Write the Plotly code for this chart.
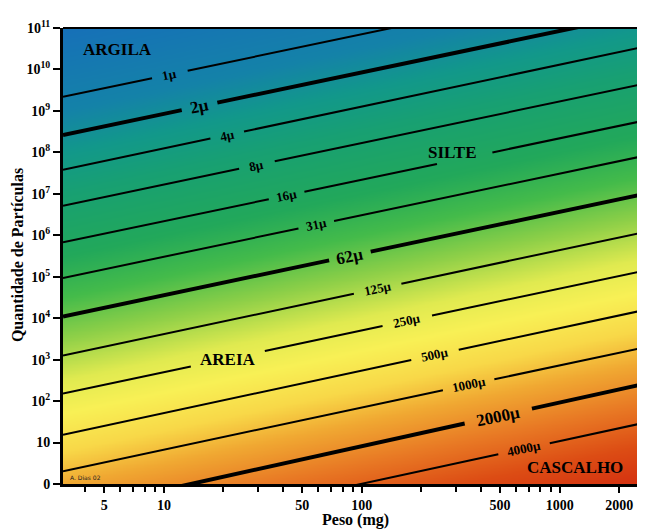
import numpy as np
import plotly.graph_objects as go

# ---------------- data ----------------
size_labels = ["1μ", "2μ", "4μ", "8μ", "16μ", "31μ", "62μ", "125μ", "250μ", "500μ", "1000μ", "2000μ", "4000μ"]
# log10(number of particles) at the left edge (3.09 mg) and right edge (2700 mg)
logN_left = [9.34, 8.42, 7.58, 6.71, 5.83, 4.97, 4.04, 3.10, 2.18, 1.19, 0.31, -0.68, -1.55]
logN_right = [12.28, 11.36, 10.55, 9.66, 8.77, 7.92, 7.00, 6.08, 5.15, 4.20, 3.30, 2.42, 1.48]
weight_left = 3.09
weight_right = 2700
thick_lines = ["2μ", "62μ", "2000μ"]
# label position along each line (log10 weight) and half-width of the gap
label_logx = [1.03, 1.18, 1.32, 1.47, 1.62, 1.77, 1.94, 2.08, 2.23, 2.37, 2.54, 2.69, 2.82]
label_half_gap = [0.09, 0.09, 0.085, 0.09, 0.09, 0.09, 0.105, 0.12, 0.125, 0.12, 0.13, 0.17, 0.13]

region_names = ["ARGILA", "SILTE", "AREIA", "CASCALHO"]
region_w = [5.8, 288, 21.0, 1190]
region_n = [3.1e10, 1.0e8, 1.0e3, 2.5]
# extra gaps for region labels: (line, centre log10 weight, half gap)
extra_gaps = {"16μ": [(2.52, 0.14)], "250μ": [(1.323, 0.187)]}

x_tick_vals = [5, 10, 50, 100, 500, 1000, 2000]
x_minor_vals = [4, 6, 7, 8, 9, 20, 30, 40, 60, 70, 80, 90, 200, 300, 400, 600, 700, 800, 900]
y_tick_vals = [10 ** k for k in range(12)]
y_tick_text = ["<b>0</b>", "<b>10</b>"] + ["<b>10<sup>%d</sup></b>" % k for k in range(2, 12)]

LX0, LX1 = np.log10(weight_left), np.log10(weight_right)
SERIF = "Liberation Serif"

fig = go.Figure()

# ---------------- background gradient (grain-size field) ----------------
gx = np.linspace(LX0, LX1, 160)
gy = np.linspace(0, 11, 320)
Z = gx[None, :] - gy[:, None]
colorscale = [
    [0.000, "#1670b8"], [0.144, "#1482a8"], [0.216, "#12988a"], [0.287, "#18a072"],
    [0.395, "#22a85a"], [0.467, "#44bb4a"], [0.539, "#90d048"], [0.610, "#e0ea50"],
    [0.667, "#f8f055"], [0.732, "#f8d848"], [0.790, "#f0a832"], [0.862, "#e87824"],
    [0.933, "#dc4c14"], [1.000, "#d43010"],
]
fig.add_trace(go.Heatmap(
    x=10 ** gx, y=10 ** gy, z=Z, zmin=LX0 - 11, zmax=LX1,
    colorscale=colorscale, showscale=False, zsmooth="best", hoverinfo="skip",
))


def logN_at(i, lx):
    return logN_left[i] + (logN_right[i] - logN_left[i]) * (lx - LX0) / (LX1 - LX0)


annotations = []
for i, lab in enumerate(size_labels):
    gaps = [(label_logx[i], label_half_gap[i])] + extra_gaps.get(lab, [])
    gaps.sort()
    xs, ys = [], []
    start = LX0
    for c, h in gaps:
        a, b = c - h, c + h
        xs += [10 ** start, 10 ** a, None]
        ys += [10 ** logN_at(i, start), 10 ** logN_at(i, a), None]
        start = b
    xs += [10 ** start, 10 ** LX1]
    ys += [10 ** logN_at(i, start), 10 ** logN_at(i, LX1)]
    thick = lab in thick_lines
    fig.add_trace(go.Scatter(
        x=xs, y=ys, mode="lines", line=dict(color="black", width=4 if thick else 2),
        hoverinfo="skip", showlegend=False,
    ))
    annotations.append(dict(
        x=label_logx[i], y=logN_at(i, label_logx[i]), xref="x", yref="y",
        text=lab, showarrow=False, textangle=-12,
        font=dict(family=SERIF, size=17 if thick else 13, color="black", weight="bold"),
    ))

for name, w, n in zip(region_names, region_w, region_n):
    annotations.append(dict(
        x=np.log10(w), y=np.log10(n), xref="x", yref="y", text=name, showarrow=False,
        font=dict(family=SERIF, size=17, color="black", weight="bold"),
    ))

annotations.append(dict(
    x=0.008, y=0.003, xref="paper", yref="paper", xanchor="left", yanchor="bottom",
    text="A. Dias 02", showarrow=False, font=dict(family="DejaVu Sans", size=6, color="#222"),
))
annotations.append(dict(
    x=-0.079, y=0.502, xref="paper", yref="paper", text="Quantidade de Partículas",
    textangle=-90, showarrow=False, xanchor="center", yanchor="middle",
    font=dict(family=SERIF, size=16, color="black", weight="bold"),
))
annotations.append(dict(
    x=0.502, y=-0.08, xref="paper", yref="paper", text="Peso (mg)", showarrow=False,
    xanchor="center", yanchor="middle",
    font=dict(family=SERIF, size=16, color="black", weight="bold"),
))

# the page body adds an 8px offset, so the figure is 637x521 inside the 645x529 window
fig.update_layout(
    width=637, height=521,
    margin=dict(l=55, r=0, t=20, b=45),
    paper_bgcolor="white", plot_bgcolor="white",
    showlegend=False,
    annotations=annotations,
    shapes=[dict(type="line", xref="paper", yref="paper", x0=0, x1=1, y0=1, y1=1,
                 line=dict(color="black", width=2))],
    xaxis=dict(
        type="log", range=[LX0, LX1], showgrid=False, zeroline=False, automargin=False,
        showline=True, linecolor="black", linewidth=3,
        ticks="outside", ticklen=6, tickwidth=2, tickcolor="black",
        tickvals=x_tick_vals, ticktext=["<b>%d</b>" % v for v in x_tick_vals],
        tickfont=dict(family=SERIF, size=14, color="black"),
        minor=dict(tickvals=x_minor_vals, ticks="outside", ticklen=5, tickwidth=2,
                   tickcolor="black", showgrid=False),
    ),
    yaxis=dict(
        type="log", range=[0, 11], showgrid=False, zeroline=False, automargin=False,
        showline=True, linecolor="black", linewidth=3,
        ticks="outside", ticklen=7, tickwidth=2, tickcolor="black",
        tickvals=y_tick_vals, ticktext=y_tick_text,
        tickfont=dict(family=SERIF, size=14, color="black"),
    ),
)

fig.write_html("out.html")
